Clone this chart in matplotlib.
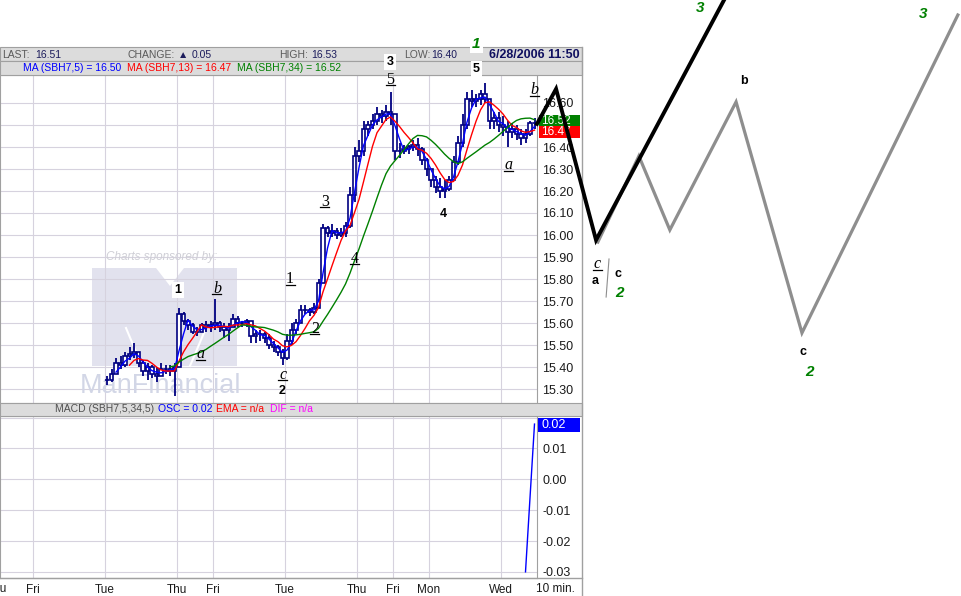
import matplotlib.pyplot as plt
import numpy as np
import pandas as pd
from matplotlib.patches import Rectangle, Polygon

plt.rcParams['font.family'] = ['Liberation Sans', 'DejaVu Sans']
plt.rcParams['axes.unicode_minus'] = False

W, H = 961, 596
navy = "#000080"
grid_color = "#d6d2de"
band_color = "#dcdcdc"
edge_gray = "#a0a0a0"
PX_PER_PRICE = 220   # vertical pixels per 1.00 of price
PX_PER_DAY = 36      # horizontal pixels per trading day

# 10-minute bars of SBH7, one bar every 1/8 trading day (x in day units)
first_day = 2.0556
bar_step = 1 / 8
bar_high = [15.36, 15.39, 15.44, 15.45, 15.47, 15.49, 15.51, 15.47, 15.43, 15.42,
            15.41, 15.40, 15.42, 15.41, 15.41, 15.42, 15.67, 15.65, 15.62, 15.60,
            15.58, 15.60, 15.61, 15.61, 15.71, 15.61, 15.60, 15.60, 15.64, 15.63,
            15.61, 15.62, 15.59, 15.57, 15.57, 15.56, 15.55, 15.52, 15.50, 15.48,
            15.55, 15.60, 15.62, 15.68, 15.68, 15.67, 15.69, 15.80, 16.05, 16.04,
            16.05, 16.03, 16.03, 16.06, 16.22, 16.40, 16.43, 16.52, 16.52, 16.55,
            16.58, 16.57, 16.59, 16.65, 16.52, 16.42, 16.41, 16.41, 16.43, 16.44,
            16.40, 16.35, 16.30, 16.27, 16.26, 16.25, 16.27, 16.36, 16.45, 16.55,
            16.65, 16.66, 16.64, 16.66, 16.69, 16.62, 16.56, 16.56, 16.54, 16.52,
            16.51, 16.50, 16.48, 16.48, 16.52, 16.53]
bar_low = [15.32, 15.33, 15.37, 15.39, 15.40, 15.43, 15.44, 15.40, 15.36, 15.34,
           15.35, 15.33, 15.36, 15.37, 15.36, 15.27, 15.40, 15.59, 15.57, 15.55,
           15.54, 15.56, 15.56, 15.56, 15.57, 15.56, 15.53, 15.52, 15.58, 15.58,
           15.58, 15.58, 15.51, 15.51, 15.52, 15.51, 15.48, 15.47, 15.45, 15.41,
           15.43, 15.50, 15.55, 15.62, 15.64, 15.63, 15.64, 15.68, 15.98, 15.99,
           15.99, 15.98, 15.99, 15.99, 16.03, 16.15, 16.33, 16.36, 16.45, 16.48,
           16.50, 16.51, 16.52, 16.50, 16.34, 16.35, 16.37, 16.37, 16.38, 16.36,
           16.32, 16.27, 16.22, 16.19, 16.17, 16.17, 16.20, 16.25, 16.32, 16.40,
           16.48, 16.58, 16.58, 16.59, 16.60, 16.48, 16.48, 16.47, 16.45, 16.40,
           16.44, 16.43, 16.41, 16.42, 16.45, 16.48]
bar_close = [15.34, 15.37, 15.42, 15.41, 15.45, 15.46, 15.47, 15.42, 15.38, 15.40,
             15.37, 15.36, 15.39, 15.39, 15.38, 15.40, 15.64, 15.61, 15.59, 15.56,
             15.56, 15.59, 15.58, 15.59, 15.60, 15.58, 15.57, 15.58, 15.62, 15.60,
             15.60, 15.61, 15.54, 15.55, 15.55, 15.53, 15.50, 15.49, 15.47, 15.44,
             15.52, 15.57, 15.60, 15.66, 15.66, 15.65, 15.67, 15.78, 16.03, 16.01,
             16.02, 16.00, 16.01, 16.04, 16.18, 16.36, 16.38, 16.48, 16.50, 16.52,
             16.55, 16.54, 16.56, 16.55, 16.38, 16.38, 16.39, 16.40, 16.41, 16.39,
             16.34, 16.30, 16.25, 16.22, 16.20, 16.21, 16.25, 16.33, 16.42, 16.50,
             16.62, 16.61, 16.62, 16.64, 16.62, 16.52, 16.53, 16.50, 16.49, 16.47,
             16.48, 16.46, 16.44, 16.46, 16.51, 16.51]

# MACD oscillator only exists for the last three bars
macd_vals = [-0.0300, -0.0060, 0.0179]

day_ticks = [0, 2, 4, 5, 7, 9, 10, 11, 13]
day_labels = ["Fri", "Tue", "Thu", "Fri", "Tue", "Thu", "Fri", "Mon", "Wed"]
price_ticks = [15.3, 15.4, 15.5, 15.6, 15.7, 15.8, 15.9, 16.0, 16.1, 16.2,
               16.3, 16.4, 16.5, 16.6]
hidden_price_label = 16.5   # covered by the last-value tags
macd_ticks = [0.02, 0.01, 0.0, -0.01, -0.02, -0.03]

# quote header
last_px, change_px, high_px, low_px = "16.51", "0.05", "16.53", "16.40"
stamp = "6/28/2006 11:50"
ma5_last, ma13_last, ma34_last = "16.50", "16.47", "16.52"
last_tags = [(16.52, ma34_last, "#008000"), (16.47, ma13_last, "#ff0000")]

# hand-drawn Elliott wave projections (day, price)
black_wave_day = [14.0, 14.53, 15.64, 19.3]
black_wave_price = [16.505, 16.664, 15.977, 17.10]
gray_wave_day = [15.69, 16.83, 17.69, 19.53, 21.36, 25.69]
gray_wave_price = [15.968, 16.359, 16.023, 16.605, 15.555, 17.0]
slash_day = [16.0, 15.92]
slash_price = [15.891, 15.718]

# wave labels: (day, price, text, style)
wave_labels = [
    (4.03, 15.750, "1", "bold_box"),
    (5.11, 15.764, "b", "minor"),
    (4.64, 15.468, "a", "minor"),
    (6.94, 15.373, "c", "minor"),
    (6.92, 15.291, "2", "bold"),
    (7.14, 15.809, "1", "minor"),
    (7.83, 15.582, "2", "minor"),
    (8.11, 16.160, "3", "minor"),
    (8.94, 15.900, "4", "minor"),
    (9.92, 16.714, "5", "minor"),
    (9.92, 16.786, "3", "bold_box"),
    (11.39, 16.095, "4", "bold"),
    (12.31, 16.755, "5", "bold_box"),
    (12.31, 16.868, "1", "green_box"),
    (13.22, 16.327, "a", "minor"),
    (13.94, 16.668, "b", "minor"),
    (18.53, 17.030, "3", "green"),
    (24.72, 17.005, "3", "green"),
    (19.75, 16.700, "b", "bold"),
    (21.39, 15.468, "c", "bold"),
    (21.58, 15.377, "2", "green"),
    (15.67, 15.877, "c", "minor"),
    (15.61, 15.790, "a", "bold"),
    (16.25, 15.823, "c", "bold"),
    (16.28, 15.736, "2", "green"),
]


def fx(x):
    return x / W


def fy(y):
    return 1 - y / H


def px_rect(x0, y0, x1, y1):
    return [fx(x0), fy(y1), fx(x1) - fx(x0), fy(y0) - fy(y1)]


n = len(bar_close)
bar_day = first_day + np.arange(n) * bar_step
close = pd.Series(bar_close)
bar_open = [bar_close[0]] + bar_close[:-1]
# MA windows rescaled to this coarser bar spacing
ma_fast = close.rolling(3).mean()
ma_mid = close.rolling(6).mean()
ma_slow = close.rolling(15).mean()

fig = plt.figure(figsize=(W / 100, H / 100), dpi=100)
fig.patch.set_facecolor("white")

x_left = -33 / PX_PER_DAY
x_right = (537 - 33) / PX_PER_DAY

# ---- price panel
ax = fig.add_axes(px_rect(0, 75, 537, 403))
ax.set_xlim(x_left, x_right)
ax.set_ylim(16 - (403 - 235) / PX_PER_PRICE, 16 + (235 - 75) / PX_PER_PRICE)

# watermark
m_shape = [(92, 268), (156, 268), (170, 286), (184, 268), (237, 268),
           (237, 366), (92, 366)]
ax.add_patch(Polygon([(fx(a), fy(b)) for a, b in m_shape], closed=True,
                     transform=fig.transFigure, fc="#e2e2ee", ec="none", zorder=0.5))
for seg in ([(126, 328), (142, 366)], [(206, 328), (190, 366)]):
    ax.plot([fx(p[0]) for p in seg], [fy(p[1]) for p in seg], color="white",
            lw=1.5, transform=fig.transFigure, zorder=0.6)
ax.text(fx(162), fy(257), "Charts sponsored by:", transform=fig.transFigure,
        ha="center", va="center", fontsize=8.5, style="italic", color="#cfcfd6", zorder=0.6)
ax.text(fx(161), fy(386), "ManFinancial", transform=fig.transFigure,
        ha="center", va="center", fontsize=19.5, color="#d2d6e6", zorder=0.6)

ax.vlines(bar_day, bar_low, bar_high, color=navy, lw=1.3, zorder=3)
body_low = np.minimum(bar_open, bar_close)
body_h = np.abs(np.array(bar_close) - np.array(bar_open))
ax.bar(bar_day, body_h, bottom=body_low, width=0.09, facecolor="white",
       edgecolor=navy, lw=1.2, zorder=3.2)
ax.plot(bar_day, ma_fast, color="#0000ff", lw=1.0, zorder=4)
ax.plot(bar_day, ma_mid, color="#ff0000", lw=1.0, zorder=4)
ax.plot(bar_day, ma_slow, color="#008000", lw=1.0, zorder=4)

ax.set_xticks(day_ticks)
ax.set_xticklabels([])
ax.set_yticks(price_ticks)
ax.set_yticklabels(["" if v == hidden_price_label else f"{v:.2f}" for v in price_ticks])
ax.yaxis.tick_right()
ax.tick_params(axis="both", length=0)
ax.tick_params(axis="y", pad=4, labelsize=9, labelcolor="#1a1a1a")
ax.grid(True, color=grid_color, lw=0.8)
ax.set_axisbelow(True)
for s in ax.spines.values():
    s.set_color(edge_gray)

# ---- MACD panel
mx = fig.add_axes(px_rect(0, 416, 537, 578))
mx.set_xlim(x_left, x_right)
mx.set_ylim((479.3 - 578) / 3085, (479.3 - 416) / 3085)
mx.plot(bar_day[-len(macd_vals):], macd_vals, color="#0000ff", lw=1.0, zorder=4)
mx.set_xticks(day_ticks)
mx.set_xticklabels(day_labels)
mx.set_yticks(macd_ticks)
mx.set_yticklabels([""] + [f"{v:.2f}" for v in macd_ticks[1:]])
mx.yaxis.tick_right()
mx.tick_params(axis="both", length=0)
mx.tick_params(axis="y", pad=4, labelsize=9, labelcolor="#1a1a1a")
mx.tick_params(axis="x", pad=4, labelsize=8.5, labelcolor="#1a1a1a")
mx.grid(True, color=grid_color, lw=0.8)
mx.set_axisbelow(True)
for s in mx.spines.values():
    s.set_color(edge_gray)
mx.add_patch(Rectangle((1 + 1 / 537, (578 - 432) / 162), 42 / 537, 14 / 162,
                       transform=mx.transAxes, fc="#0000ff", ec="none", clip_on=False, zorder=6))
mx.text(1 + 4 / 537, (578 - 425) / 162, f"{macd_ticks[0]:.2f}", transform=mx.transAxes,
        color="white", fontsize=9, va="center", clip_on=False, zorder=7)

fig.text(fx(555), fy(589), "10 min.", ha="center", va="center", fontsize=8.5, color="#1a1a1a")
fig.text(fx(-3), fy(589), "Thu", ha="center", va="center", fontsize=8.5, color="#1a1a1a")

# ---- header bands and frame
for y0, y1 in [(47, 61), (61, 75), (403, 416)]:
    fig.add_artist(Rectangle((fx(0), fy(y1)), fx(582), fy(y0) - fy(y1),
                             transform=fig.transFigure, fc=band_color, ec=edge_gray, lw=0.8))
fig.add_artist(plt.Line2D([fx(582), fx(582)], [fy(47), fy(596)], transform=fig.transFigure,
                          color=edge_gray, lw=1))
fig.add_artist(plt.Line2D([fx(0), fx(582)], [fy(578), fy(578)], transform=fig.transFigure,
                          color=edge_gray, lw=1))

hy = fy(54.5)
lab_c = "#5a5a5a"
val_c = "#1c1c5c"
for x, txt, col in [(2, "LAST:", lab_c), (35, last_px, val_c), (128, "CHANGE:", lab_c),
                    (178, "\u25B2", val_c), (192, change_px, val_c), (279, "HIGH:", lab_c),
                    (311, high_px, val_c), (404, "LOW:", lab_c), (431, low_px, val_c)]:
    fig.text(fx(x), hy, txt, ha="left", va="center", fontsize=7.5, color=col)
fig.text(fx(580), hy, stamp, ha="right", va="center", fontsize=9, weight="bold", color="#101060")

my = fy(68)
for x, txt, col in [(23, f"MA (SBH7,5) = {ma5_last}", "#0000ff"),
                    (127, f"MA (SBH7,13) = {ma13_last}", "#ff0000"),
                    (237, f"MA (SBH7,34) = {ma34_last}", "#008000")]:
    fig.text(fx(x), my, txt, ha="left", va="center", fontsize=7.5, color=col)

cy = fy(409.5)
for x, txt, col in [(55, "MACD (SBH7,5,34,5)", "#505050"), (158, "OSC = 0.02", "#0000ff"),
                    (216, "EMA = n/a", "#ff0000"), (270, "DIF = n/a", "#ff00ff")]:
    fig.text(fx(x), cy, txt, ha="left", va="center", fontsize=7.5, color=col)

# ---- overlay with wave annotations (same day/price scale, whole canvas)
ov = fig.add_axes([0, 0, 1, 1])
ov.set_xlim(-33 / PX_PER_DAY, (W - 33) / PX_PER_DAY)
ov.set_ylim(16 - (H - 235) / PX_PER_PRICE, 16 + 235 / PX_PER_PRICE)
ov.axis("off")
ov.patch.set_alpha(0)
ov.set_zorder(10)

# last-value tags on the price scale (x 539..580 px)
tag_x0 = (539 - 33) / PX_PER_DAY
tag_w = 41 / PX_PER_DAY
tag_h = 12 / PX_PER_PRICE
for val, txt, col in last_tags:
    ov.add_patch(Rectangle((tag_x0, val - tag_h / 2), tag_w, tag_h, fc=col, ec="none", zorder=1))
    ov.text(tag_x0 + 2 / PX_PER_DAY, val, txt, color="white", fontsize=8.5, va="center",
            ha="left", zorder=1.5)

ov.plot(gray_wave_day, gray_wave_price, color="#8e8e8e", lw=2.3, solid_joinstyle="miter", zorder=2)
ov.plot(black_wave_day, black_wave_price, color="black", lw=2.8, solid_joinstyle="miter", zorder=3)
ov.plot(slash_day, slash_price, color="#8e8e8e", lw=0.8, zorder=2)

ul_dx = 4.5 / PX_PER_DAY       # half underline width
base_dy = 6 / PX_PER_PRICE     # baseline below label centre
ul_dy = 7.5 / PX_PER_PRICE     # underline below label centre
for d, p, t, kind in wave_labels:
    if kind == "minor":
        style = "italic" if t.isalpha() else "normal"
        ov.text(d, p - base_dy, t, ha="center", va="baseline", fontsize=11.5, style=style,
                family="Liberation Serif", color="black", zorder=4)
        ov.plot([d - ul_dx, d + ul_dx], [p - ul_dy, p - ul_dy], color="black", lw=0.9, zorder=4)
    elif kind == "bold":
        ov.text(d, p, t, ha="center", va="center", fontsize=9, weight="bold", color="black", zorder=4)
    elif kind == "bold_box":
        ov.text(d, p, t, ha="center", va="center", fontsize=9, weight="bold", color="black",
                bbox=dict(fc="white", ec="none", pad=1.5), zorder=4)
    elif kind == "green_box":
        ov.text(d, p, t, ha="center", va="center", fontsize=11, weight="bold",
                style="italic", color="#008000", bbox=dict(fc="white", ec="none", pad=1.5), zorder=4)
    else:
        ov.text(d, p, t, ha="center", va="center", fontsize=11, weight="bold",
                style="italic", color="#008000", zorder=4)

fig.savefig("out.png", dpi=100)
